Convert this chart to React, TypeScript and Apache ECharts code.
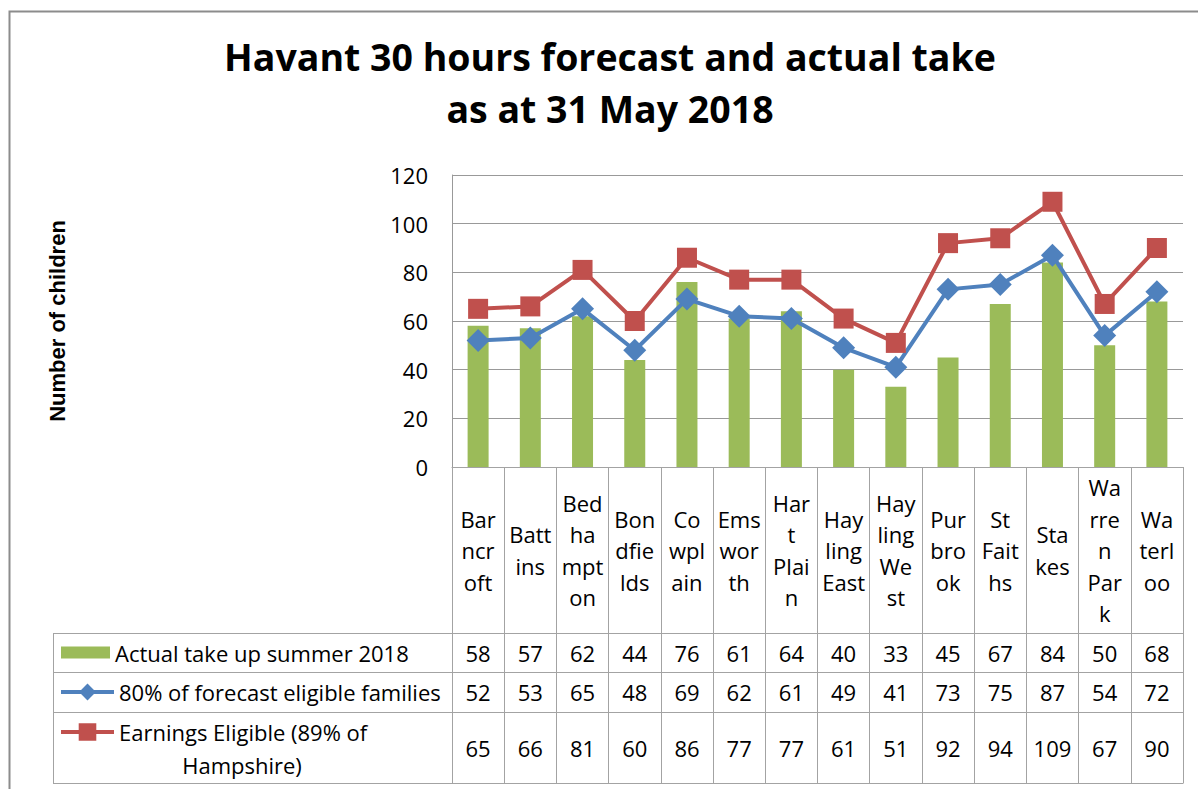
import React, { useEffect, useRef } from "react";
import * as echarts from "echarts";

const titleLines = ["Havant 30 hours forecast and actual take", "as at 31 May 2018"];
const yAxisTitle = "Number of children";
const categories = ["Barncroft", "Battins", "Bedhampton", "Bondfields", "Cowplain", "Emsworth", "Hart Plain", "Hayling East", "Hayling West", "Purbrook", "St Faiths", "Stakes", "Warren Park", "Waterloo"];
const categoryLabels = ["Bar\nncr\noft", "Batt\nins", "Bed\nha\nmpt\non", "Bon\ndfie\nlds", "Co\nwpl\nain", "Ems\nwor\nth", "Har\nt\nPlai\nn", "Hay\nling\nEast", "Hay\nling\nWe\nst", "Pur\nbro\nok", "St\nFait\nhs", "Sta\nkes", "Wa\nrre\nn\nPar\nk", "Wa\nterl\noo"];
const seriesNames = ["Actual take up summer 2018", "80% of forecast eligible families", "Earnings Eligible (89% of Hampshire)"];
const actualTakeUp = [58, 57, 62, 44, 76, 61, 64, 40, 33, 45, 67, 84, 50, 68];
const forecast80 = [52, 53, 65, 48, 69, 62, 61, 49, 41, 73, 75, 87, 54, 72];
const earningsEligible = [65, 66, 81, 60, 86, 77, 77, 61, 51, 92, 94, 109, 67, 90];
const yMin = 0;
const yMax = 120;
const yInterval = 20;

const FONT = "'Open Sans', 'Noto Sans', sans-serif";
const GREEN = "#9BBB59";
const BLUE = "#4F81BD";
const RED = "#C0504D";
const TABLE_LINE = "#a3a3a3";
const FS = 22;
const LINE_W = 4;

export default function App() {
  const ref = useRef<HTMLDivElement>(null);
  useEffect(() => {
    if (!ref.current) return;
    const chart = echarts.init(ref.current, null, { renderer: "svg" });

    const plotLeft = 452;
    const plotRight = 1183;
    const plotTop = 175;
    const plotBottom = 467;
    const rowLines = [633, 672, 712, 783];
    const tableLeft = 53;

    const valueAxis = (vals: number[], offset: number) => ({
      type: "category",
      data: categories.map((_, i) => String(vals[i])),
      position: "bottom",
      offset,
      axisLine: { show: false },
      axisTick: { show: false },
      splitLine: { show: false },
      axisLabel: {
        interval: 0,
        margin: 0,
        verticalAlign: "middle",
        fontSize: FS,
        fontFamily: FONT,
        color: "#000",
      },
    });

    const graphics: any[] = [
      {
        type: "rect",
        shape: { x: 9.5, y: 11.5, width: 1300, height: 900 },
        style: { fill: "none", stroke: "#8c8c8c", lineWidth: 2 },
        silent: true,
      },
      {
        type: "text",
        x: 610,
        y: 56,
        style: { text: titleLines[0], font: `bold 37.5px ${FONT}`, fill: "#000", align: "center", verticalAlign: "middle" },
      },
      {
        type: "text",
        x: 610,
        y: 108,
        style: { text: titleLines[1], font: `bold 37.5px ${FONT}`, fill: "#000", align: "center", verticalAlign: "middle" },
      },
      {
        type: "text",
        x: 57,
        y: 321,
        rotation: Math.PI / 2,
        style: { text: yAxisTitle, font: "bold 22px 'Liberation Sans', Arial, sans-serif", fill: "#000", align: "center", verticalAlign: "middle" },
      },
      {
        type: "text",
        x: 242,
        y: 765,
        style: { text: "Hampshire)", font: `${FS}px ${FONT}`, fill: "#000", align: "center", verticalAlign: "middle" },
      },
      {
        type: "line",
        shape: { x1: tableLeft + 0.5, y1: rowLines[0] + 0.5, x2: tableLeft + 0.5, y2: rowLines[3] + 0.5 },
        style: { stroke: TABLE_LINE, lineWidth: 1 },
        silent: true,
      },
      ...rowLines.map((y) => ({
        type: "line",
        shape: { x1: tableLeft, y1: y + 0.5, x2: plotRight + 0.5, y2: y + 0.5 },
        style: { stroke: TABLE_LINE, lineWidth: 1 },
        silent: true,
      })),
    ];

    const legendBase = {
      orient: "horizontal",
      padding: 0,
      selectedMode: false,
      itemGap: 0,
      textStyle: { fontSize: FS, fontFamily: FONT, color: "#000", lineHeight: 24 },
    };

    chart.setOption({
      animation: false,
      backgroundColor: "#fff",
      grid: {
        left: plotLeft,
        right: 1198 - plotRight,
        top: plotTop,
        bottom: 789 - plotBottom,
        containLabel: false,
      },
      legend: [
        { ...legendBase, data: [seriesNames[0]], left: 61, top: 640.5, icon: "rect", itemWidth: 49, itemHeight: 12 },
        {
          ...legendBase,
          data: [seriesNames[1]],
          left: 59,
          top: 680,
          itemWidth: 53,
          itemHeight: 21,
          lineStyle: { width: LINE_W },
        },
        {
          ...legendBase,
          data: [seriesNames[2]],
          left: 59,
          top: 720,
          itemWidth: 53,
          itemHeight: 22,
          lineStyle: { width: LINE_W },
          formatter: () => "Earnings Eligible (89% of",
        },
      ],
      xAxis: [
        {
          type: "category",
          data: categoryLabels,
          position: "bottom",
          axisLine: { show: true, lineStyle: { color: TABLE_LINE, width: 1 } },
          axisTick: { show: true, interval: 0, length: rowLines[3] - plotBottom, lineStyle: { color: TABLE_LINE, width: 1 } },
          axisLabel: {
            interval: 0,
            margin: (rowLines[0] - plotBottom) / 2,
            verticalAlign: "middle",
            align: "center",
            fontSize: FS,
            lineHeight: 31.5,
            fontFamily: FONT,
            color: "#000",
          },
        },
        valueAxis(actualTakeUp, (rowLines[0] + rowLines[1]) / 2 - plotBottom),
        valueAxis(forecast80, (rowLines[1] + rowLines[2]) / 2 - plotBottom),
        valueAxis(earningsEligible, (rowLines[2] + rowLines[3]) / 2 - plotBottom),
      ],
      yAxis: {
        type: "value",
        min: yMin,
        max: yMax,
        interval: yInterval,
        axisLine: { show: true, lineStyle: { color: "#999", width: 1 } },
        axisTick: { show: false },
        splitLine: { show: true, lineStyle: { color: "#999", width: 1 } },
        axisLabel: { margin: 24, fontSize: FS, fontFamily: FONT, color: "#000" },
      },
      series: [
        {
          name: seriesNames[0],
          type: "bar",
          data: actualTakeUp,
          barWidth: 21,
          itemStyle: { color: GREEN },
        },
        {
          name: seriesNames[1],
          type: "line",
          data: forecast80,
          symbol: "diamond",
          symbolSize: 23,
          lineStyle: { color: BLUE, width: LINE_W },
          emphasis: { disabled: true },
          itemStyle: { color: BLUE },
        },
        {
          name: seriesNames[2],
          type: "line",
          data: earningsEligible,
          symbol: "rect",
          symbolSize: 20,
          lineStyle: { color: RED, width: LINE_W },
          emphasis: { disabled: true },
          itemStyle: { color: RED },
        },
      ],
      graphic: graphics,
    });

    return () => chart.dispose();
  }, []);

  return (
    <div
      ref={ref}
      style={{ position: "fixed", left: 0, top: 0, width: 1198, height: 789, background: "#fff" }}
    />
  );
}
